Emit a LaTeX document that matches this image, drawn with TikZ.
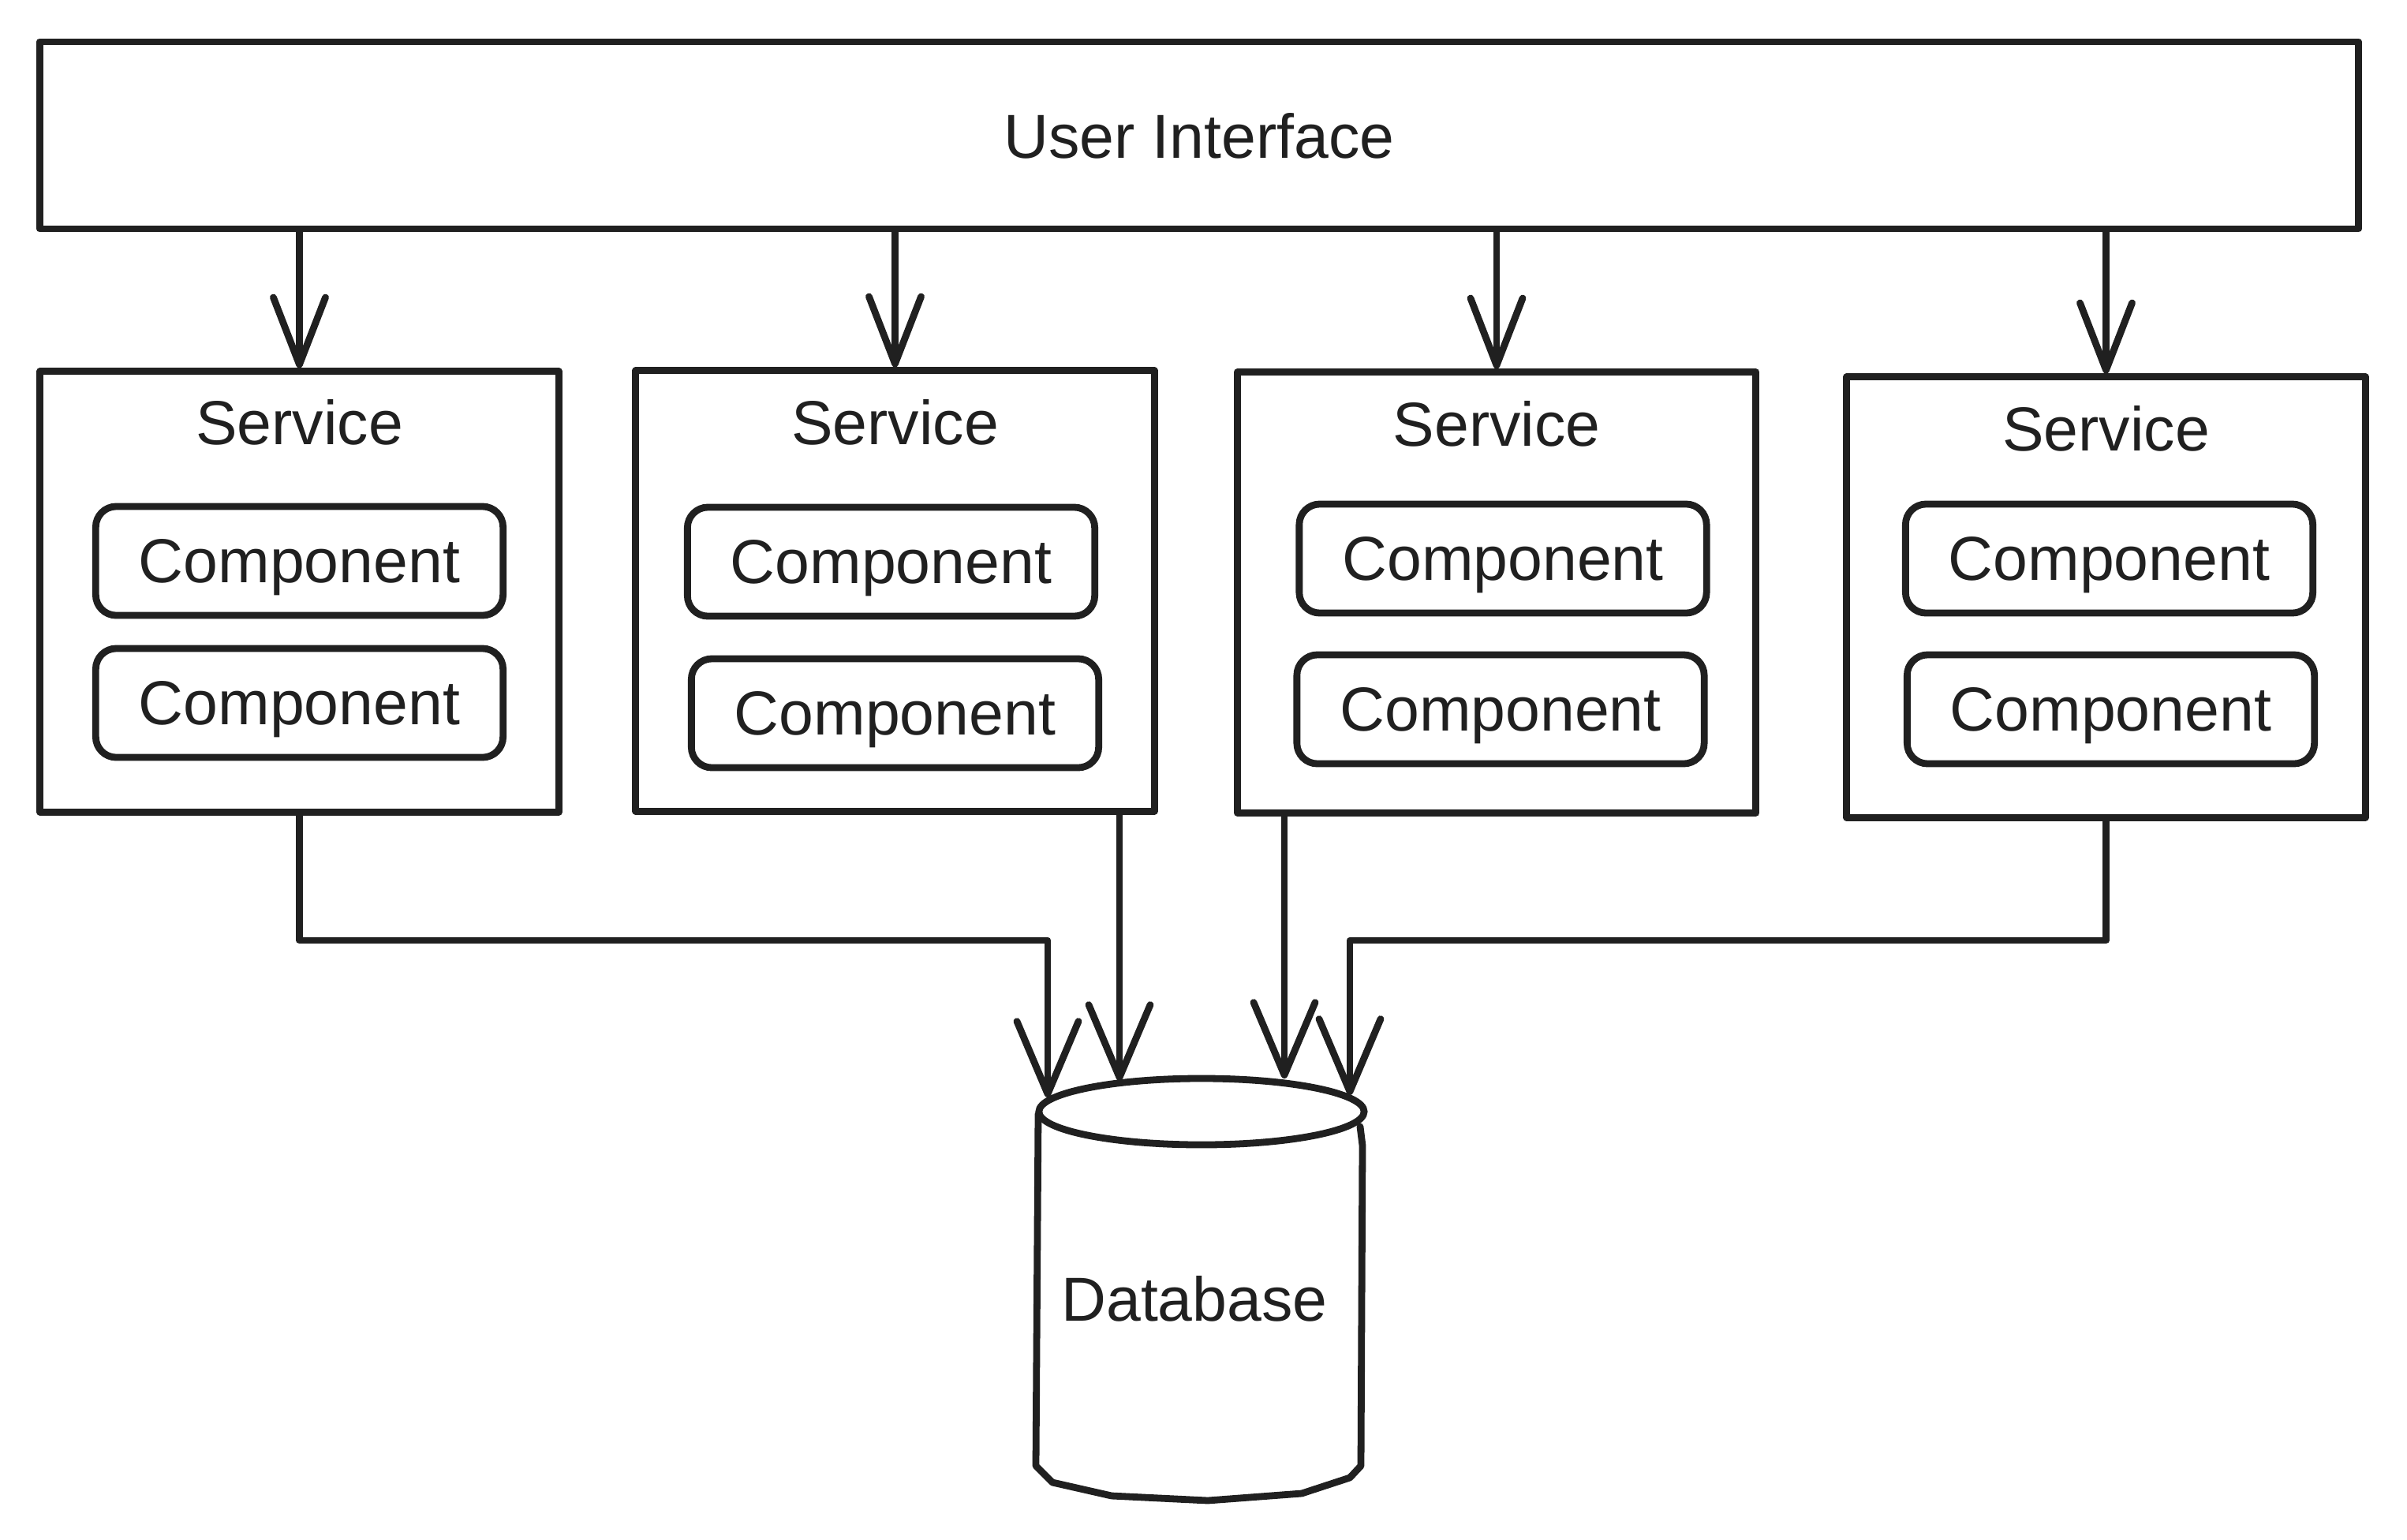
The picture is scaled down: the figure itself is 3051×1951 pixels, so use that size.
\documentclass[tikz,border=0pt]{standalone}
\usepackage{fontspec}
\setmainfont{Liberation Sans}
\usetikzlibrary{arrows.meta}
\definecolor{ink}{HTML}{202020}
\begin{document}
\begin{tikzpicture}[x=0.01cm,y=-0.01cm,
  every node/.style={text=ink, font=\fontsize{22.4}{27}\selectfont, text depth=0pt},
  frame/.style={draw=ink, line width=2.5pt, rectangle, inner sep=0pt, line join=round},
  svcbox/.style={frame, minimum width=6.57cm, minimum height=5.58cm},
  comp/.style={draw=ink, line width=2.5pt, rounded corners=0.26cm,
    minimum width=5.16cm, minimum height=1.38cm, inner sep=0pt},
  link/.style={draw=ink, line width=2.5pt, line cap=round, line join=round,
    -{Straight Barb[length=0.85cm,width=0.66cm,round]}},
  dblink/.style={link, -{Straight Barb[length=0.92cm,width=0.78cm,round]}},
]
\useasboundingbox (0,0) rectangle (3051,1951);

% top layer
\node[frame, minimum width=29.38cm, minimum height=2.37cm] (ui) at (1520,171.5) {User Interface};

% service boxes
\node[svcbox] (s1) at (379.5,750) {};
\node[svcbox] (s2) at (1134.5,749) {};
\node[svcbox] (s3) at (1897,751) {};
\node[svcbox] (s4) at (2669.5,757) {};

\node (t1) at ([yshift=-0.68cm]s1.north) {Service};
\node (t2) at ([yshift=-0.69cm]s2.north) {Service};
\node (t3) at ([yshift=-0.69cm]s3.north) {Service};
\node (t4) at ([yshift=-0.69cm]s4.north) {Service};

% components
\node[comp] (c11) at (379.5,711) {Component};
\node[comp] (c12) at (379.5,891) {Component};
\node[comp] (c21) at (1129.5,712) {Component};
\node[comp] (c22) at (1134.5,904) {Component};
\node[comp] (c31) at (1905,708) {Component};
\node[comp] (c32) at (1902,899) {Component};
\node[comp] (c41) at (2673.5,708) {Component};
\node[comp] (c42) at (2675.5,899) {Component};

% database cylinder
\draw[ink, line width=2.5pt, line join=round, line cap=round]
  (1316,1412) -- (1313,1858) -- (1334,1879) -- (1409,1896) -- (1531,1902)
  -- (1650,1893) -- (1711,1873) -- (1725,1858) -- (1727,1452) -- (1724,1428);
\draw[ink, line width=2.5pt, fill=white] (1523,1409) ellipse [x radius=2.06cm, y radius=0.42cm];
\node (db) at (1514,1646) {Database};

% arrow end points on the cylinder top and elbow points
\coordinate (d1) at (1328,1391);
\coordinate (d2) at (1419,1370);
\coordinate (d3) at (1628,1367);
\coordinate (d4) at (1711,1388);
\coordinate (j1) at (1328,1192);
\coordinate (j4) at (1711,1192);

% user interface to services
\draw[link] (ui.south -| s1.north) -- (s1.north);
\draw[link] (ui.south -| s2.north) -- (s2.north);
\draw[link] (ui.south -| s3.north) -- (s3.north);
\draw[link] (ui.south -| s4.north) -- (s4.north);

% services to database
\draw[dblink] (s1.south) |- (j1) -- (d1);
\draw[dblink] (s2.south -| d2) -- (d2);
\draw[dblink] (s3.south -| d3) -- (d3);
\draw[dblink] (s4.south) |- (j4) -- (d4);
\end{tikzpicture}
\end{document}
